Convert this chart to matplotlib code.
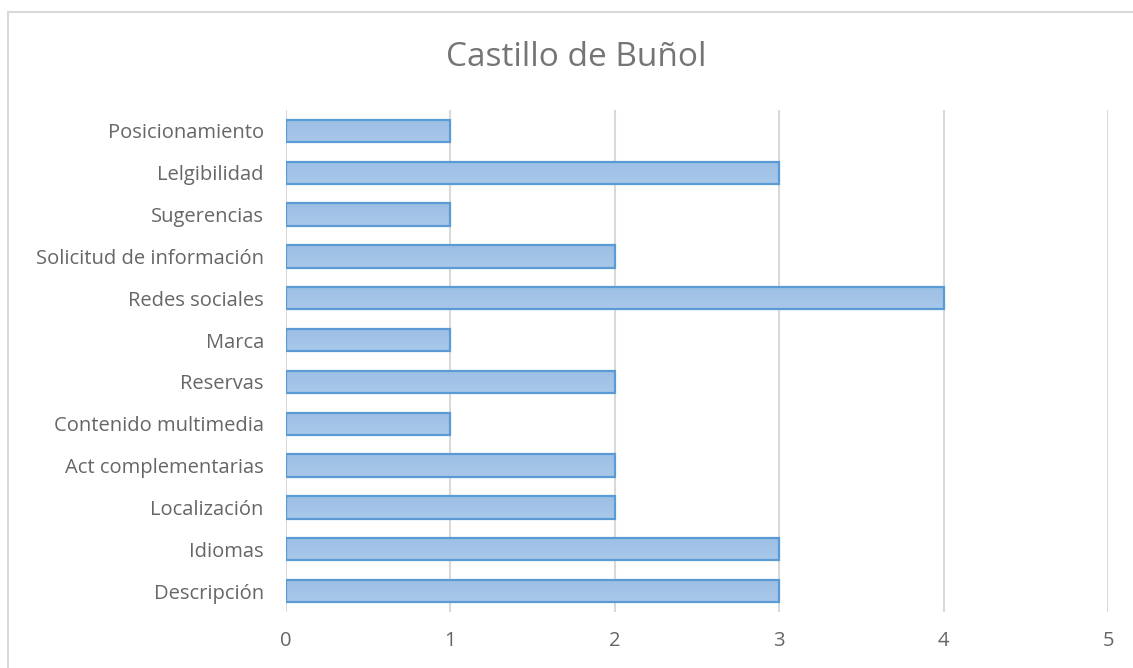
import numpy as np
import matplotlib.pyplot as plt
from matplotlib.patches import Rectangle

# ── Data ──────────────────────────────────────────────────────────────────────

CATEGORIES = ["Descripción", "Idiomas", "Localización", "Act complementarias",
              "Contenido multimedia", "Reservas", "Marca", "Redes sociales",
              "Solicitud de información", "Sugerencias", "Lelgibilidad",
              "Posicionamiento"]
VALUES = [3, 3, 2, 2, 1, 2, 1, 4, 2, 1, 3, 1]
XTICKS = [0, 1, 2, 3, 4, 5]

TITLE = "Castillo de Buñol"
TEXT_COL = "#666666"
TITLE_COL = "#757575"
GRID_COL = "#d9d9d9"
EDGE_COL = "#5b9bd5"
BAR_H = 0.53

plt.rcParams["font.family"] = ["Open Sans", "DejaVu Sans"]

W, H = 1133, 668
fig = plt.figure(figsize=(W / 100, H / 100), dpi=100)

# chart-area border (clipped at the right and bottom as in the original)
fig.patches.append(Rectangle((8 / W, -0.1), 1.2, 1 - 12 / H + 0.1,
                             transform=fig.transFigure, fill=False,
                             edgecolor=GRID_COL, lw=1.5))

ax = fig.add_axes([286 / W, 1 - 612 / H, (1108 - 286) / W, (612 - 110) / H])

y = np.arange(len(CATEGORIES))
grad = np.linspace(0, 1, 64).reshape(-1, 1)
cmap = plt.matplotlib.colors.LinearSegmentedColormap.from_list(
    "bar", ["#a9c8ea", "#9dbfe4"])

for yi, v in zip(y, VALUES):
    ax.imshow(grad, cmap=cmap, aspect="auto", zorder=2,
              extent=(0, v, yi - BAR_H / 2, yi + BAR_H / 2), origin="lower")
    ax.add_patch(Rectangle((0, yi - BAR_H / 2), v, BAR_H, fill=False,
                           edgecolor=EDGE_COL, lw=1.6, zorder=3))

ax.set_xlim(0, 5)
ax.set_ylim(-0.5, len(CATEGORIES) - 0.5)
ax.set_xticks(XTICKS)
ax.set_yticks(y)
ax.set_yticklabels(CATEGORIES)
ax.grid(axis="x", color=GRID_COL, lw=1.5, zorder=0)
ax.set_axisbelow(True)
for s in ax.spines.values():
    s.set_visible(False)
ax.tick_params(axis="both", length=0, labelsize=14.5, colors=TEXT_COL)
ax.tick_params(axis="x", pad=14)
ax.tick_params(axis="y", pad=16)

fig.text(576 / W, 1 - 58 / H, TITLE, ha="center", va="center",
         fontsize=24, color=TITLE_COL)

fig.savefig("out.png", dpi=100)
